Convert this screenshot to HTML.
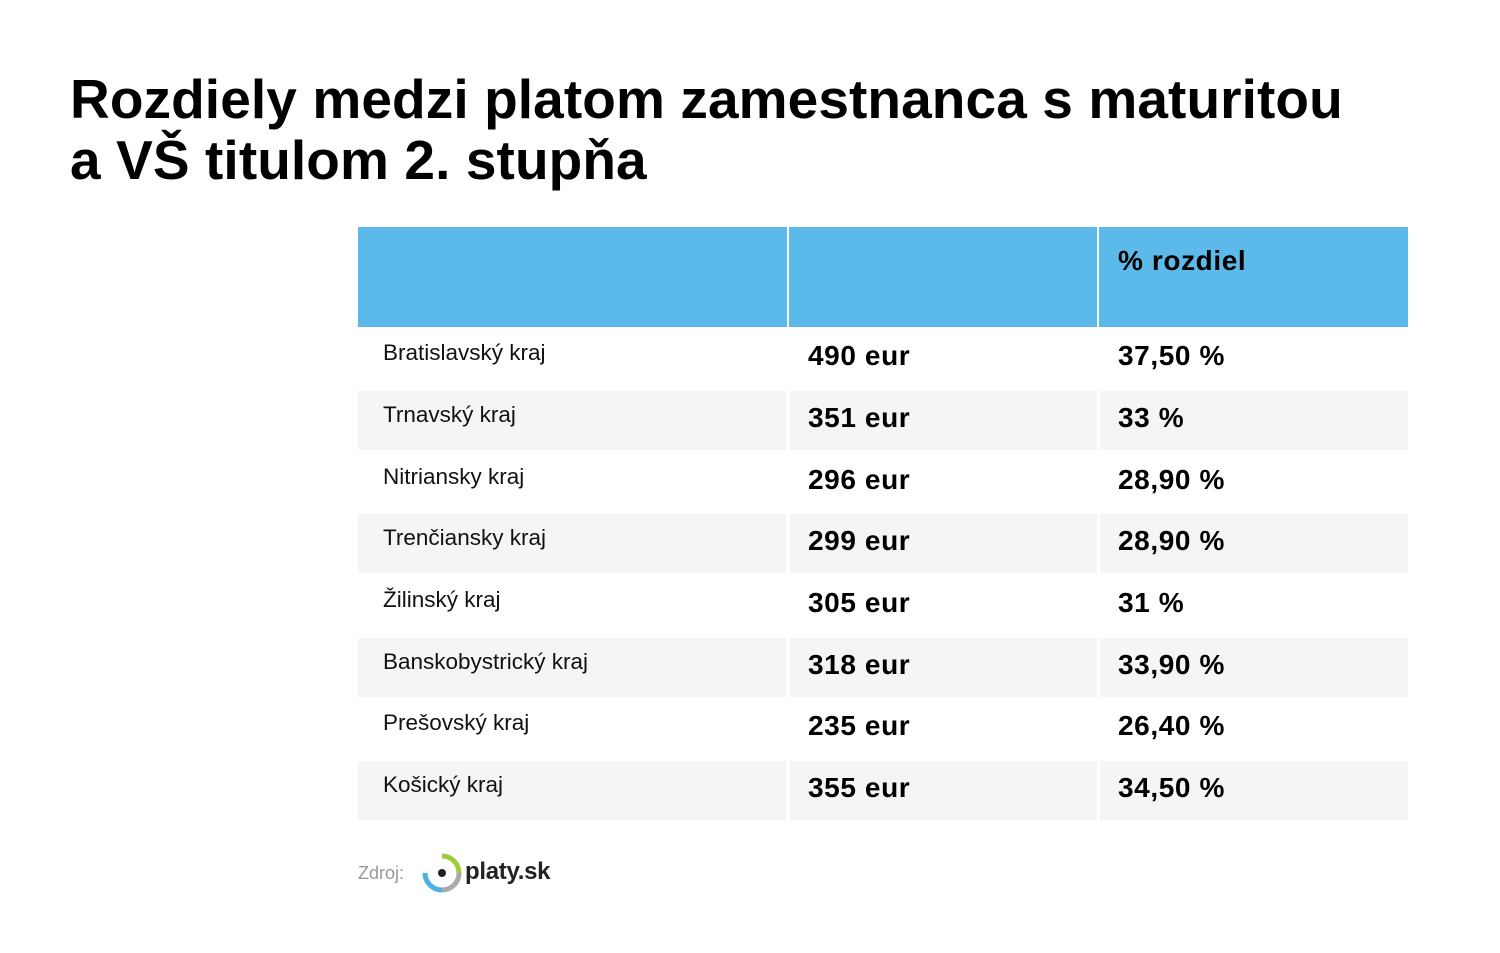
<!DOCTYPE html>
<html><head><meta charset="utf-8"><style>
body{margin:0;width:1500px;height:953px;background:#fff;font-family:"Liberation Sans",sans-serif;position:relative;overflow:hidden}
.a{position:absolute}
.t{left:70px;font-weight:bold;font-size:55px;color:#000;white-space:nowrap;line-height:1;letter-spacing:0.1px}
.cell{position:absolute;height:59px}
.lab{position:absolute;left:383px;font-size:22.5px;color:#111;white-space:nowrap}
.val{position:absolute;font-size:28px;font-weight:bold;color:#000;white-space:nowrap;letter-spacing:0.6px}
</style></head><body>
<div class="a t" style="top:72px">Rozdiely medzi platom zamestnanca s maturitou</div>
<div class="a t" style="top:133px">a VŠ titulom 2. stupňa</div>
<div class="a" style="left:358px;top:227px;width:429px;height:100px;background:#5bbaea"></div>
<div class="a" style="left:789px;top:227px;width:308px;height:100px;background:#5bbaea"></div>
<div class="a" style="left:1099px;top:227px;width:309px;height:100px;background:#5bbaea"></div>
<div class="val" style="left:1118px;top:245px">% rozdiel</div>
<div id="rows"></div>
<div class="a" style="left:358px;top:863px;font-size:18px;color:#999">Zdroj:</div>
<svg class="a" style="left:422px;top:852px" width="40" height="42" viewBox="0 0 40 42">
<path d="M20 4 A17 17 0 0 1 37 21" stroke="#9dcc3c" stroke-width="5" fill="none"/>
<path d="M37 21 A17 17 0 0 1 20 38" stroke="#aaa" stroke-width="5" fill="none"/>
<path d="M20 38 A17 17 0 0 1 3 21" stroke="#4db0e4" stroke-width="5" fill="none"/>
<circle cx="20" cy="21" r="4" fill="#222"/></svg>
<div class="a" style="left:465px;top:858px;font-size:24px;font-weight:bold;color:#222;letter-spacing:-0.3px">platy.sk</div>
<script>
const regions=["Bratislavský kraj","Trnavský kraj","Nitriansky kraj","Trenčiansky kraj","Žilinský kraj","Banskobystrický kraj","Prešovský kraj","Košický kraj"];
const diffs=["490 eur","351 eur","296 eur","299 eur","305 eur","318 eur","235 eur","355 eur"];
const pcts=["37,50 %","33 %","28,90 %","28,90 %","31 %","33,90 %","26,40 %","34,50 %"];
const root=document.getElementById('rows');
regions.forEach((r,i)=>{
  const top=329.3+61.67*i;
  if(i%2===1){
    [[358,428],[790,307],[1100,308]].forEach(([x,w])=>{
      const c=document.createElement('div');c.className='cell';
      
      
      c.style.cssText=`left:${x}px;top:${top}px;width:${w}px;background:#f4f5f7`;root.appendChild(c);});
  }
  const l=document.createElement('div');l.className='lab';
  
  
  l.style.top=(top+11)+'px';l.textContent=r;root.appendChild(l);
  const v=document.createElement('div');v.className='val';
  
  
  v.style.left='808px';v.style.top=(top+11)+'px';v.textContent=diffs[i];root.appendChild(v);
  const p=document.createElement('div');p.className='val';
  
  
  p.style.left='1118px';p.style.top=(top+11)+'px';p.textContent=pcts[i];root.appendChild(p);
});
</script>
</body></html>
